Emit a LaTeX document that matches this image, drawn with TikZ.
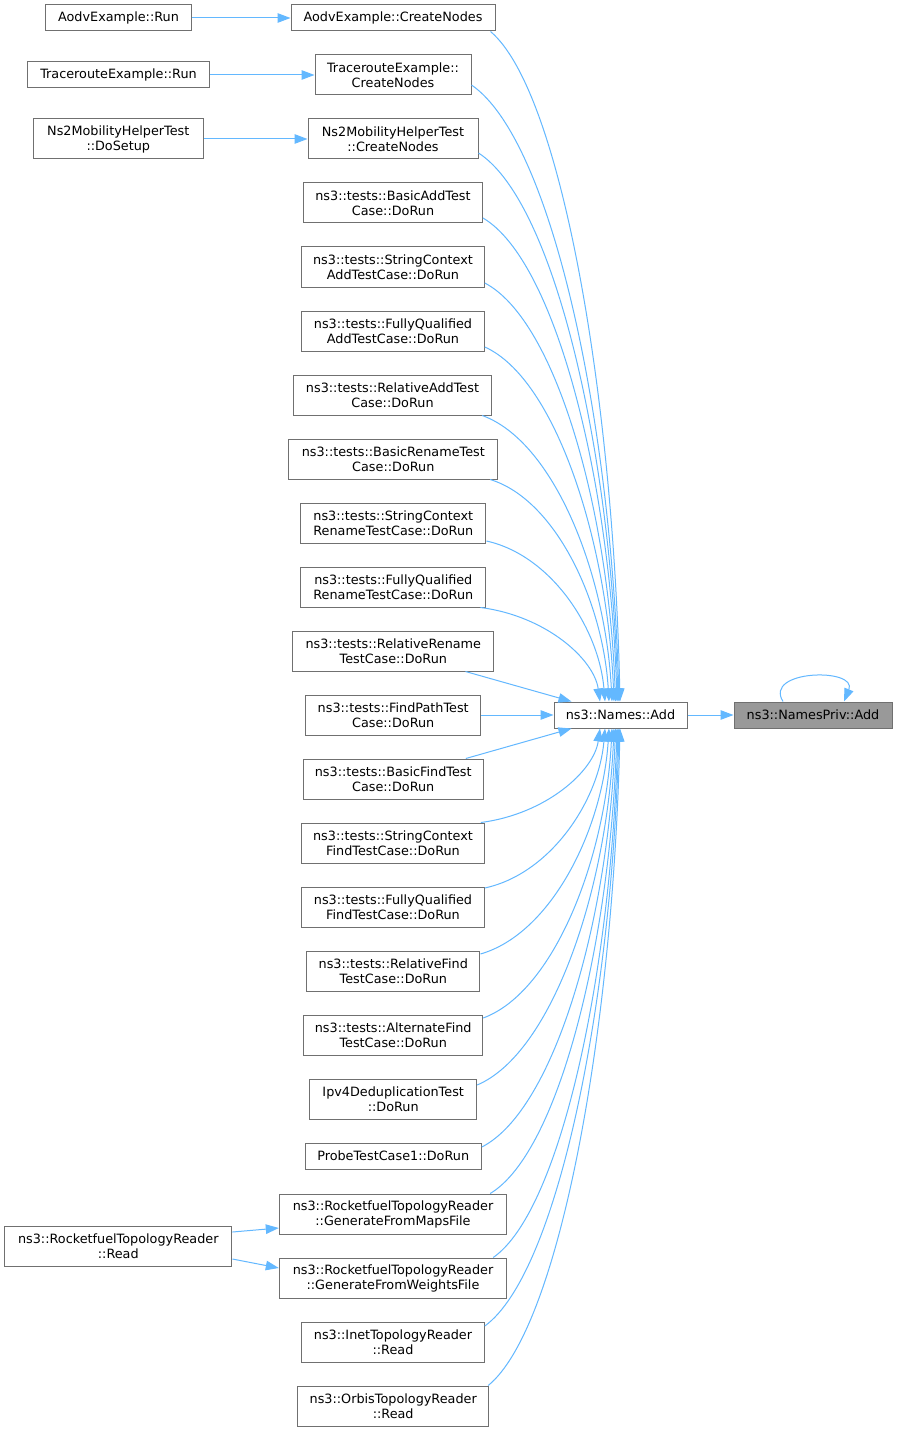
\documentclass[tikz,border=0pt]{standalone}
\usepackage{fontspec}
\setmainfont{DejaVu Sans}
\usetikzlibrary{arrows.meta,calc}
\definecolor{edgecol}{HTML}{63B8FF}
\definecolor{boxline}{HTML}{707070}
\definecolor{hlfill}{HTML}{999999}
\tikzset{
 fn/.style={draw=boxline, line width=1pt, fill=white, inner sep=0pt, minimum height=26pt, align=center, font=\fontsize{12.8}{15}\selectfont, text=black},
 fn2/.style={fn, minimum height=40pt},
 edge/.style={draw=edgecol, line width=1pt, -{Triangle[length=13pt,width=9.5pt]}},
}
\newcommand\fanedge[2]{\draw[edge] let \p1=(#1), \p2=(#2) in (\p1) .. controls ({\x1+0.55*(\x2-\x1)},{\y1+0.09*(\y2-\y1)}) and ({\x2-0.05*(\x2-\x1)},{\y2-0.45*(\y2-\y1)}) .. (\p2);}
\begin{document}
\begin{tikzpicture}[x=1pt,y=-1pt]
\fill[white] (0,0) rectangle (897,1431);
\useasboundingbox (0,0) rectangle (897,1431);
% left column
\node[fn, minimum width=145.6pt] (aodvr) at (118.5,18) {AodvExample::Run};
\node[fn, minimum width=181.6pt] (trr) at (118.5,75) {TracerouteExample::Run};
\node[fn2, minimum width=170pt] (ns2s) at (118.3,139) {Ns2MobilityHelperTest\\::DoSetup};
\node[fn2, minimum width=227.3pt] (rfread) at (118.3,1246) {ns3::RocketfuelTopologyReader\\::Read};
% middle column
\node[fn, minimum width=204pt] (aodvc) at (393,18) {AodvExample::CreateNodes};
\node[fn2, minimum width=156pt] (trc) at (393,75) {TracerouteExample::\\CreateNodes};
\node[fn2, minimum width=170pt] (ns2c) at (393,139) {Ns2MobilityHelperTest\\::CreateNodes};
\node[fn2, minimum width=179pt] (basicadd) at (393,203) {ns3::tests::BasicAddTest\\Case::DoRun};
\node[fn2, minimum width=182.6pt] (scadd) at (393,267) {ns3::tests::StringContext\\AddTestCase::DoRun};
\node[fn2, minimum width=182.6pt] (fqadd) at (393,331) {ns3::tests::FullyQualified\\AddTestCase::DoRun};
\node[fn2, minimum width=198.4pt] (reladd) at (392.5,395) {ns3::tests::RelativeAddTest\\Case::DoRun};
\node[fn2, minimum width=208.7pt] (basicren) at (393.3,459) {ns3::tests::BasicRenameTest\\Case::DoRun};
\node[fn2, minimum width=185.3pt] (scren) at (393.3,523) {ns3::tests::StringContext\\RenameTestCase::DoRun};
\node[fn2, minimum width=185.3pt] (fqren) at (393.3,587) {ns3::tests::FullyQualified\\RenameTestCase::DoRun};
\node[fn2, minimum width=201.3pt] (relren) at (393.3,651) {ns3::tests::RelativeRename\\TestCase::DoRun};
\node[fn2, minimum width=175pt] (findpath) at (393.2,715) {ns3::tests::FindPathTest\\Case::DoRun};
\node[fn2, minimum width=180.3pt] (basicfind) at (393.2,779) {ns3::tests::BasicFindTest\\Case::DoRun};
\node[fn2, minimum width=182.6pt] (scfind) at (393,843) {ns3::tests::StringContext\\FindTestCase::DoRun};
\node[fn2, minimum width=182.6pt] (fqfind) at (393,907) {ns3::tests::FullyQualified\\FindTestCase::DoRun};
\node[fn2, minimum width=173.3pt] (relfind) at (393.3,971) {ns3::tests::RelativeFind\\TestCase::DoRun};
\node[fn2, minimum width=179pt] (altfind) at (393.2,1035) {ns3::tests::AlternateFind\\TestCase::DoRun};
\node[fn2, minimum width=167pt] (ipv4) at (393.2,1099) {Ipv4DeduplicationTest\\::DoRun};
\node[fn, minimum width=176.3pt] (probe) at (393.2,1156) {ProbeTestCase1::DoRun};
\node[fn2, minimum width=227.4pt] (maps) at (393,1214) {ns3::RocketfuelTopologyReader\\::GenerateFromMapsFile};
\node[fn2, minimum width=227.4pt] (weights) at (393,1278) {ns3::RocketfuelTopologyReader\\::GenerateFromWeightsFile};
\node[fn2, minimum width=182.6pt] (inet) at (393,1342) {ns3::InetTopologyReader\\::Read};
\node[fn2, minimum width=191pt] (orbis) at (393.2,1406) {ns3::OrbisTopologyReader\\::Read};
% right
\node[fn, minimum width=133pt] (names) at (620.5,715) {ns3::Names::Add};
\node[fn, minimum width=158pt, fill=hlfill] (np) at (813,715) {ns3::NamesPriv::Add};
% straight edges
\draw[edge] (aodvr) -- (aodvc);
\draw[edge] (trr) -- (trc);
\draw[edge] (ns2s) -- (ns2c);
\draw[edge] ($(rfread.east)+(0,-14)$) -- ($(maps.west)+(0,14)$);
\draw[edge] ($(rfread.east)+(0,13)$) -- ($(weights.west)+(0,-10)$);
\draw[edge] (names) -- (np);
\draw[edge] ($(np.north)+(-30,0)$) .. controls ($(np.north)+(-50,-32)$) and ($(np.north)+(45,-34)$) .. ($(np.north)+(31,0)$);
\draw[edge] (findpath) -- (names);
\draw[edge] ($(relren.south east)+(-29,0)$) -- ($(names.north west)+(18,0)$);
\draw[edge] ($(basicfind.north east)+(-18,0)$) -- ($(names.south west)+(18,0)$);
% fan from above
\fanedge{$(aodvc.south east)+(-5,0)$}{$(names.north)+(-0.5,0)$}
\fanedge{$(trc.east)+(0,10)$}{$(names.north)+(-1.5,0)$}
\fanedge{$(ns2c.east)+(0,14)$}{$(names.north)+(-2.5,0)$}
\fanedge{$(basicadd.east)+(0,15)$}{$(names.north)+(-3.5,0)$}
\fanedge{$(scadd.east)+(0,16)$}{$(names.north)+(-5,0)$}
\fanedge{$(fqadd.east)+(0,16)$}{$(names.north)+(-6.5,0)$}
\fanedge{$(reladd.south east)+(-10,0)$}{$(names.north)+(-8.5,0)$}
\fanedge{$(basicren.south east)+(-8,0)$}{$(names.north)+(-11.5,0)$}
\fanedge{$(scren.east)+(0,18)$}{$(names.north)+(-15.5,0)$}
\fanedge{$(fqren.south east)+(-6,0)$}{$(names.north)+(-20.5,0)$}
% fan from below
\fanedge{$(scfind.north east)+(-4,0)$}{$(names.south)+(-20.5,0)$}
\fanedge{$(fqfind.east)+(0,-19)$}{$(names.south)+(-15.5,0)$}
\fanedge{$(relfind.east)+(0,-17)$}{$(names.south)+(-11.5,0)$}
\fanedge{$(altfind.east)+(0,-17)$}{$(names.south)+(-8.5,0)$}
\fanedge{$(ipv4.east)+(0,-14)$}{$(names.south)+(-6.5,0)$}
\fanedge{$(probe.east)+(0,-9)$}{$(names.south)+(-5,0)$}
\fanedge{$(maps.north east)+(-17,0)$}{$(names.south)+(-3.5,0)$}
\fanedge{$(weights.north east)+(-14,0)$}{$(names.south)+(-2.5,0)$}
\fanedge{$(inet.east)+(0,-16)$}{$(names.south)+(-1.5,0)$}
\fanedge{$(orbis.north east)+(-1,0)$}{$(names.south)+(-0.5,0)$}
\end{tikzpicture}
\end{document}
